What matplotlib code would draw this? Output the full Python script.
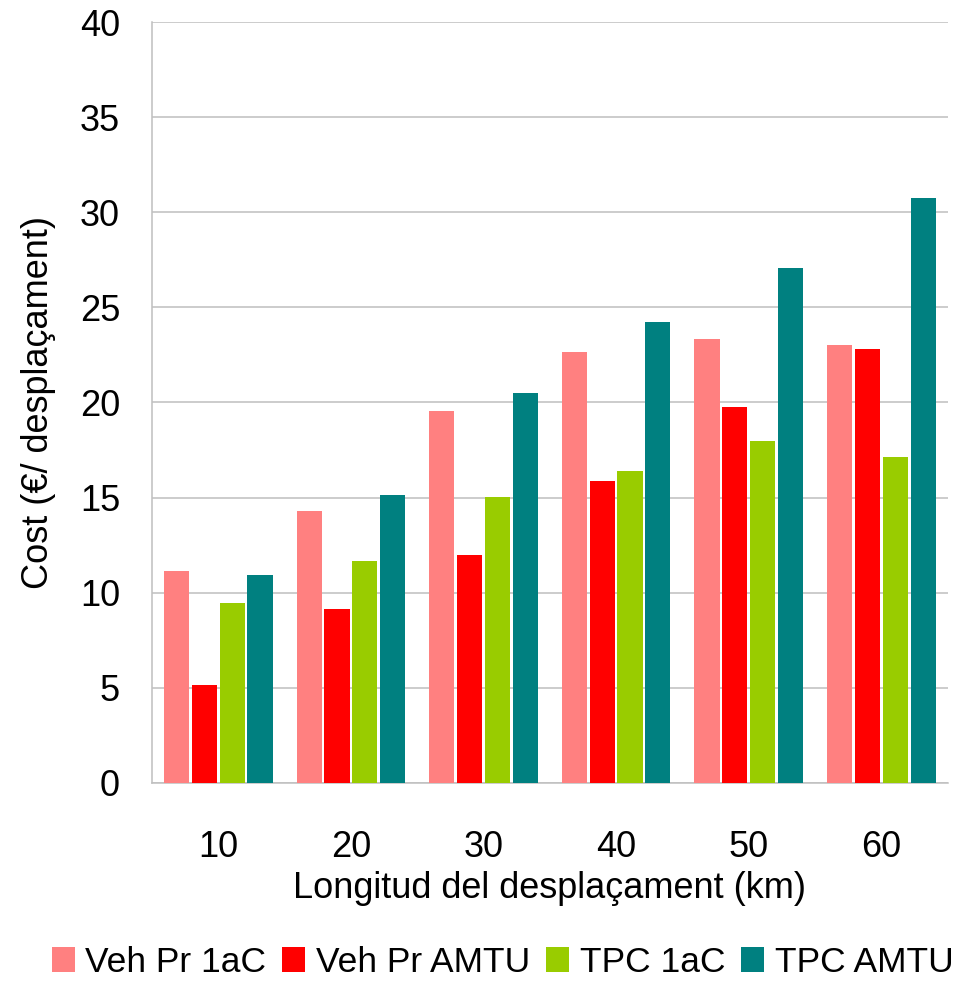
import numpy as np
import matplotlib.pyplot as plt

plt.rcParams['font.family'] = ['Liberation Sans', 'DejaVu Sans']

# cost per trip by trip length
distances = ['10', '20', '30', '40', '50', '60']
series_names = ['Veh Pr 1aC', 'Veh Pr AMTU', 'TPC 1aC', 'TPC AMTU']
veh_pr_1ac = [11.14, 14.29, 19.54, 22.68, 23.32, 23.00]
veh_pr_amtu = [5.16, 9.14, 11.98, 15.86, 19.74, 22.79]
tpc_1ac = [9.46, 11.68, 15.02, 16.39, 17.96, 17.12]
tpc_amtu = [10.93, 15.13, 20.49, 24.25, 27.09, 30.76]
colors = ['#FF8080', '#FF0000', '#99CC00', '#008080']

series = [veh_pr_1ac, veh_pr_amtu, tpc_1ac, tpc_amtu]

fig = plt.figure(figsize=(9.65, 9.83), dpi=100)
ax = fig.add_axes([0.1575, 0.2035, 0.8245, 0.7741])

x = np.arange(len(distances))
width = 0.19
step = 0.21
for i, (vals, name, col) in enumerate(zip(series, series_names, colors)):
    ax.bar(x + (i - 1.5) * step, vals, width, color=col, label=name, zorder=3)

ax.set_xlim(-0.5, len(distances) - 0.5)
ax.set_ylim(0, 40)
ax.set_yticks(np.arange(0, 41, 5))
ax.set_xticks(x)
ax.set_xticklabels(distances)

ax.grid(axis='y', color='#BFBFBF', linewidth=1.1, zorder=0)
for s in ['top', 'right']:
    ax.spines[s].set_visible(False)
for s in ['left', 'bottom']:
    ax.spines[s].set_color('#BFBFBF')
    ax.spines[s].set_linewidth(1.1)

ax.tick_params(axis='y', length=0, pad=23, labelsize=26)
ax.tick_params(axis='x', length=0, pad=34, labelsize=26)

ax.set_xlabel('Longitud del desplaçament (km)', fontsize=26, labelpad=4)
ax.set_ylabel('Cost (€/ desplaçament)', fontsize=26, labelpad=17)

fig.legend(loc='center', bbox_to_anchor=(0.521, 1 - 962 / 983), ncol=4,
           frameon=False, fontsize=25.5, handlelength=0.65, handleheight=0.7,
           handletextpad=0.3, columnspacing=0.45, borderaxespad=0,
           borderpad=0)

fig.savefig('out.png', dpi=100)
